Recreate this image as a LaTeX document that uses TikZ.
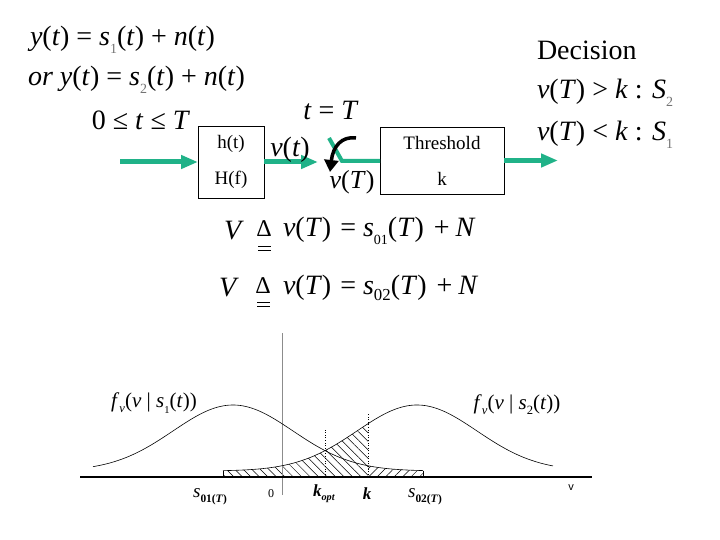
\documentclass[tikz,border=0pt]{standalone}
\usepackage{fontspec}
\setmainfont{Liberation Serif}
\newfontfamily\arialf{Liberation Sans}
\usepackage{graphicx}
\usetikzlibrary{arrows.meta,patterns.meta}
\definecolor{arrowteal}{RGB}{32,178,136}
\newcommand{\mi}[1]{\textit{#1}}
\newcommand{\sbx}[2][black]{\raisebox{-0.28em}{\textcolor{#1}{\scalebox{0.5}{#2}}}}
\newcommand{\myfs}[1]{\fontsize{#1}{#1}\selectfont}
\begin{document}
\begin{tikzpicture}[x=1pt,y=-1pt,
  every node/.style={inner sep=0pt,outer sep=0pt},
  blockbox/.style={draw,line width=0.8pt,align=center,font={\fontsize{19}{36}\selectfont}},
  bigarrow/.style={arrowteal,line width=5pt,-{Triangle[length=17pt,width=13pt]}},
  curve/.style={line width=0.6pt},
  declare function={ga(\x,\m)=477-6-66*exp(-0.5*((\x-\m)/60)^2);}]
\useasboundingbox (0,0) rectangle (720,540);
% top-left equations
\node[anchor=west,font=\myfs{28}] (eqa) at (30,40) {\mi{y}(\mi{t}) = \mi{s}\sbx[black!55]{1}(\mi{t}) + \mi{n}(\mi{t})};
\node[anchor=west,font=\myfs{28}] (eqb) at (28,80) {\mi{or} \mi{y}(\mi{t}) = \mi{s}\sbx[black!55]{2}(\mi{t}) + \mi{n}(\mi{t})};
\node[font=\myfs{28}] (eqc) at (141,120) {0 ≤ \mi{t} ≤ \mi{T}};
% blocks
\node[blockbox,minimum width=66pt,minimum height=72pt] (hbox) at (231,162) {h(t)\\H(f)};
\node[blockbox,minimum width=124pt,minimum height=67pt] (thr) at (442,160.5) {Threshold\\k};
\coordinate (in) at (120,162);
\coordinate (swin) at (318,162);
\coordinate (out) at (558,162);
\coordinate (sw1) at (329,138);
\coordinate (sw2) at (342,161);
\draw[bigarrow] (in) -- (hbox.west);
\draw[bigarrow] (hbox.east) -- (swin);
\draw[bigarrow] (thr.east) -- (thr.east -| out);
\draw[arrowteal,line width=4pt] (sw1) -- (sw2) -- (sw2 -| thr.west);
\coordinate (ca1) at (356,138);
\coordinate (ca2) at (330,172);
\draw[line width=3.5pt,-{Triangle[length=12pt,width=14pt]}] (ca1) .. controls (342,136) and (333,146) .. (ca2);
\node[font=\myfs{28}] (tT) at (331,110) {\mi{t} = \mi{T}};
\node[font=\myfs{28}] (vt) at (290,150) {\mi{v}(\mi{t})};
\node[font=\myfs{26}] (vT) at (352,182) {\mi{v}(\mi{T})};
% decision
\node[anchor=west,font=\myfs{28}] (dec) at (537,50) {Decision};
\node[anchor=west,font=\myfs{28}] (deca) at (537,93) {\mi{v}(\mi{T}) > \mi{k} : \mi{S}\sbx[black!55]{2}};
\node[anchor=west,font=\myfs{28}] (decb) at (537,135) {\mi{v}(\mi{T}) < \mi{k} : \mi{S}\sbx[black!55]{1}};
% V definitions
\node[font=\myfs{28}] (Va) at (234,231) {\mi{V}};
\node[font=\myfs{24}] (Da) at (264,229) {Δ};
\node[anchor=west,font=\myfs{28}] (Ra) at (283,231) {\mi{v}(\mi{T})\hspace{2pt} = \mi{s}\sbx{01}(\mi{T})\hspace{3pt} +\hspace{6pt}\mi{N}};
\draw[line width=0.9pt] (258,246) -- (271,246) (258,250) -- (271,250);
\node[font=\myfs{28}] (Vb) at (229,288) {\mi{V}};
\node[font=\myfs{24}] (Db) at (263,286) {Δ};
\node[anchor=west,font=\myfs{28}] (Rb) at (283,288) {\mi{v}(\mi{T})\hspace{2pt} = \mi{s}\raisebox{-0.2em}{\scalebox{0.6}{02}}(\mi{T})\hspace{3pt} +\hspace{6pt}\mi{N}};
\draw[line width=0.9pt] (257,302) -- (270,302) (257,306) -- (270,306);
% graph
\fill[pattern={Lines[angle=135,distance=6pt,line width=0.5pt]}] (223,477) -- plot[domain=223:368,samples=60] (\x,{ga(\x,417)}) -- (368,477) -- cycle;
\fill[pattern={Lines[angle=45,distance=6pt,line width=0.5pt]}] (368,477) -- plot[domain=368:423,samples=30] (\x,{ga(\x,233)}) -- (423,477) -- cycle;
\draw[black!45,line width=0.5pt] (282,333) -- (282,495);
\draw[curve] plot[domain=93:423,samples=120] (\x,{ga(\x,233)});
\draw[curve] plot[domain=223:553,samples=120] (\x,{ga(\x,417)});
\draw[curve] (223,477) -- (223,{ga(223,417)});
\draw[curve] (423,477) -- (423,{ga(423,233)});
\draw[dotted,line width=0.6pt] (325,477) -- (325,429);
\draw[dotted,line width=0.6pt] (368,477) -- (368,413);
\draw[line width=1.6pt] (80,477) -- (592,477);
\node[font=\myfs{21}] (fa) at (154,403) {\mi{f}\raisebox{-0.25em}{\scalebox{0.6}{\mi{v}}}(\mi{v} | \mi{s}\sbx{1}(\mi{t}))};
\node[font=\myfs{21}] (fb) at (517,405) {\mi{f}\raisebox{-0.25em}{\scalebox{0.6}{\mi{v}}}(\mi{v} | \mi{s}\raisebox{-0.25em}{\scalebox{0.6}{2}}(\mi{t}))};
\node[font=\myfs{19}] (so1) at (210,497) {\mi{s}\raisebox{-0.25em}{\scalebox{0.6}{\textbf{01(\mi{T})}}}};
\node[font=\myfs{12}] (zero) at (271,494) {0};
\node[font=\myfs{17}] (kopt) at (324,494) {\textbf{\mi{k}}\raisebox{-0.25em}{\scalebox{0.6}{\textbf{\mi{opt}}}}};
\node[font=\myfs{17}] (kk) at (367,494) {\textbf{\mi{k}}};
\node[font=\myfs{19}] (so2) at (425,497) {\mi{s}\raisebox{-0.25em}{\scalebox{0.6}{\textbf{02(\mi{T})}}}};
\node[font=\arialf\myfs{11}] (vv) at (571,488) {v};
\end{tikzpicture}
\end{document}
